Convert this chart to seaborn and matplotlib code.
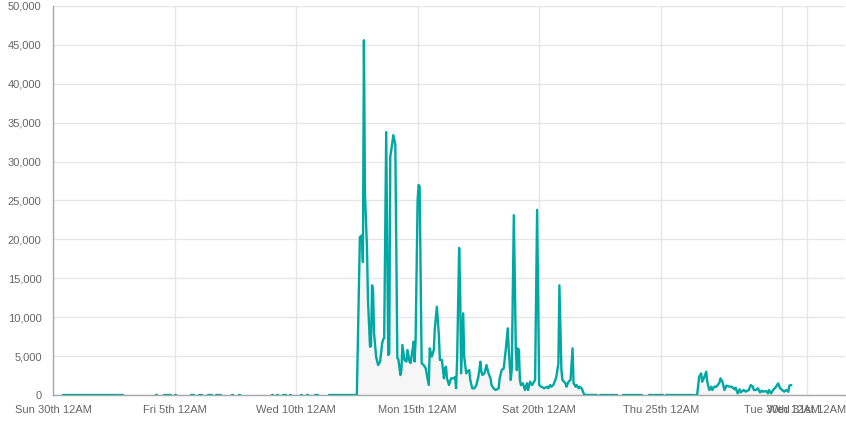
import pandas as pd
import seaborn as sns
import matplotlib.pyplot as plt
import matplotlib.ticker as mticker


START = pd.Timestamp("2019-06-30 00:00")
TEAL = "#00a8a3"
GRID = "#e6e6e6"
AXIS = "#a8a8a8"

# hours since START where the counter reads 0, split by missing readings
zero_runs = [
    (10, 69), (102, 103), (110, 117), (120, 121), (136, 139), (144, 147),
    (153, 157), (161, 166), (177, 178), (184, 185), (216, 217), (221, 222),
    (227, 230), (234, 235), (245, 246), (251, 252), (259, 262), (273, 300),
    (540, 557), (563, 582), (588, 591), (593, 602), (605, 632),
]

# main burst, hourly readings (hours since START)
burst_hours = [
    300, 303, 305, 306, 307, 308, 310, 311, 313, 314, 315, 316, 317, 319,
    321, 323, 325, 326, 327, 329, 331, 332, 333, 335, 336, 338, 340, 341,
    343, 344, 345, 347, 349, 350, 352, 353, 355, 356, 357, 358, 360, 361,
    362, 364, 366, 368, 371, 372, 374, 376, 377, 379, 381, 382, 384, 386,
    387, 388, 389, 391, 393, 395, 397, 398, 399, 401, 402, 403, 405, 406,
    408, 409, 411, 412, 414, 416, 418, 420, 422, 423, 424, 426, 428, 430,
    432, 433, 435, 437, 440, 441, 443, 445, 447, 449, 450, 452, 453, 455,
    457, 458, 459, 460, 461, 462, 464, 466, 468, 469, 471, 473, 474, 476,
    478, 480, 482, 484, 485, 488, 489, 491, 492, 494, 496, 497, 499, 500,
    502, 503, 506, 507, 509, 511, 513, 514, 516, 517, 519, 520, 522, 524,
    525, 537,
]
burst_values = [
    0, 20300, 20500, 17100, 45600, 26000, 19000, 12200, 6200, 6300, 14100, 13500, 8000, 4930,
    3850, 4300, 6640, 7150, 7300, 33800, 5140, 5300, 30600, 32400, 33400, 32200, 4750, 4600,
    2570, 3200, 6430, 4500, 4300, 5780, 4300, 4100, 5780, 6850, 4300, 7000, 25000, 27000,
    26800, 4070, 3850, 3430, 1290, 6000, 4930, 5780, 8570, 11350, 7700, 4500, 4500, 2140,
    3400, 3640, 2140, 1290, 2140, 2140, 2300, 860, 4500, 18900, 13500, 2780, 10500, 4930,
    2780, 3000, 3200, 1930, 860, 860, 1280, 2350, 4280, 3000, 2570, 2780, 3850, 2780,
    2140, 1280, 860, 640, 860, 2140, 3200, 3400, 5780, 8570, 5780, 1930, 3400, 23100,
    5780, 3200, 6000, 5780, 1930, 1280, 1500, 640, 1500, 640, 1710, 1280, 1500, 1930,
    23800, 1280, 1070, 960, 860, 1070, 860, 1280, 1070, 1280, 1930, 2350, 4070, 14100,
    3210, 1930, 1500, 1070, 1710, 1930, 6000, 1500, 1070, 1280, 860, 1070, 860, 210,
    0, 0,
]

# late small bump
tail_hours = [
    634, 636, 638, 640, 641, 643, 645, 646, 648, 650, 651, 653, 655, 658,
    659, 661, 663, 665, 668, 670, 673, 674, 676, 678, 679, 682, 684, 687,
    689, 691, 692, 694, 696, 698, 700, 701, 704, 706, 707, 709, 711, 714,
    716, 718, 720, 722, 724, 726, 727, 729,
]
tail_values = [
    0, 0, 2350, 2780, 1710, 2270, 3000, 1710, 640, 1070, 640, 1070, 1070, 1580,
    2140, 1710, 640, 1200, 1070, 1070, 730, 940, 210, 730, 340, 640, 430, 640,
    1280, 1070, 640, 640, 860, 340, 560, 430, 510, 210, 640, 210, 640, 1070,
    1500, 860, 640, 430, 640, 430, 1200, 1280,
]

tick_days = ["2019-06-30", "2019-07-05", "2019-07-10", "2019-07-15",
             "2019-07-20", "2019-07-25", "2019-07-30", "2019-07-31"]
tick_labels = ["Sun 30th 12AM", "Fri 5th 12AM", "Wed 10th 12AM", "Mon 15th 12AM",
               "Sat 20th 12AM", "Thu 25th 12AM", "Tue 30th 12AM", "Wed 31st 12AM"]


def build_frame():
    rows = []
    seg = 0
    for a, b in zero_runs:
        rows += [(seg, a, 0), (seg, b, 0)]
        seg += 1
    for hrs, vals in [(burst_hours, burst_values), (tail_hours, tail_values)]:
        rows += [(seg, h, v) for h, v in zip(hrs, vals)]
        seg += 1
    df = pd.DataFrame(rows, columns=["seg", "hour", "count"])
    df["time"] = START + pd.to_timedelta(df["hour"], unit="h")
    return df


def main():
    df = build_frame()

    sns.set_theme(style="white")
    plt.rcParams["font.family"] = ["Liberation Sans", "DejaVu Sans"]

    fig, ax = plt.subplots(figsize=(8.46, 4.23), dpi=100)
    fig.subplots_adjust(left=53 / 846, right=845 / 846, bottom=28 / 423, top=417 / 423)

    # light fill under each piece of the line
    for _, g in df.groupby("seg"):
        ax.fill_between(g["time"], 0, g["count"], color="#f6f6f6", lw=0, zorder=1)

    sns.lineplot(data=df, x="time", y="count", units="seg", estimator=None,
                 color=TEAL, lw=1.7, ax=ax, zorder=3, legend=False)

    ax.set_xlim(START, START + pd.Timedelta(hours=782))
    ax.set_ylim(0, 50000)
    ax.set_xticks(pd.to_datetime(tick_days))
    ax.set_xticklabels(tick_labels)
    ax.set_yticks(range(0, 50001, 5000))
    ax.yaxis.set_major_formatter(mticker.StrMethodFormatter("{x:,.0f}"))
    ax.set_xlabel("")
    ax.set_ylabel("")

    ax.grid(True, color=GRID, lw=1)
    ax.set_axisbelow(True)
    ax.tick_params(width=1, color=GRID, labelcolor="#666666", labelsize=8)
    ax.tick_params(axis="x", length=6, pad=1.5)
    ax.tick_params(axis="y", length=7.2, pad=1)
    ax.xaxis.get_major_ticks()[0].tick1line.set_color(AXIS)
    ax.yaxis.get_major_ticks()[0].tick1line.set_color(AXIS)

    ax.spines[["top", "right"]].set_visible(False)
    for side in ["left", "bottom"]:
        ax.spines[side].set_color(AXIS)
        ax.spines[side].set_linewidth(1)

    fig.savefig("out.png", dpi=100)
    plt.close(fig)


if __name__ == "__main__":
    main()
